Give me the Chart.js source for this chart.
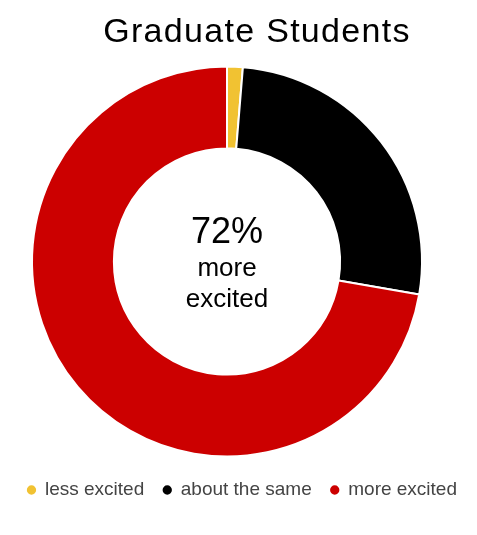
<!DOCTYPE html>
<html>
<head>
<meta charset="utf-8">
<script src="https://cdn.jsdelivr.net/npm/chart.js@4"></script>
<style>
  html, body { margin: 0; padding: 0; background: #fff; overflow: hidden; }
  /* canvas starts a little left of the page so the ring sits left of centre */
  #wrap { width: 499px; height: 535px; margin-left: -22px; }
</style>
</head>
<body>
<div id="wrap"><canvas id="gradChart"></canvas></div>
<script>
// chart data
const categories = ['less excited', 'about the same', 'more excited'];
const shares = [1.3, 26.4, 72.3];
const sliceColors = ['#f1c232', '#000000', '#cc0000'];
const chartTitle = 'Graduate Students';

const FONT = '"Liberation Sans", Arial, sans-serif';
const SHIFT = 22; // matches the wrapper's negative margin

// title and centre label drawn on the canvas
const textPlugin = {
    id: 'textPlugin',
    afterDraw(chart) {
        const ctx = chart.ctx;
        const arc = chart.getDatasetMeta(0).data[0];
        const cx = arc.x, cy = arc.y;
        const total = shares.reduce((a, b) => a + b, 0);
        const pct = Math.round(shares[2] / total * 100) + '%';

        ctx.save();
        ctx.fillStyle = '#000';
        ctx.textAlign = 'center';
        ctx.textBaseline = 'alphabetic';

        ctx.font = '34px ' + FONT;
        ctx.letterSpacing = '1.3px';
        ctx.fillText(chartTitle, 257 + SHIFT, 42);
        ctx.letterSpacing = '0px';

        ctx.font = '36px ' + FONT;
        ctx.fillText(pct, cx, cy - 19);
        ctx.font = '26px ' + FONT;
        ctx.fillText('more', cx, cy + 14);
        ctx.fillText('excited', cx, cy + 45);
        ctx.restore();
    }
};

const ctx = document.getElementById('gradChart').getContext('2d');
const gradChart = new Chart(ctx, {
    type: 'doughnut',
    data: {
        labels: categories,
        datasets: [{
            data: shares,
            backgroundColor: sliceColors,
            borderColor: '#ffffff',
            borderWidth: 2
        }]
    },
    options: {
        responsive: true,
        maintainAspectRatio: false,
        animation: false,
        radius: 195,
        cutout: '58%',
        layout: {
            padding: { left: 0, right: 1, top: 61.5, bottom: 25.5 }
        },
        plugins: {
            title: { display: false },
            tooltip: { enabled: false },
            legend: {
                position: 'bottom',
                align: 'end',
                labels: {
                    usePointStyle: true,
                    pointStyle: 'circle',
                    boxWidth: 8,
                    boxHeight: 8,
                    padding: 19,
                    color: '#444444',
                    font: { family: FONT, size: 19 }
                }
            }
        }
    },
    plugins: [textPlugin]
});
</script>
</body>
</html>
